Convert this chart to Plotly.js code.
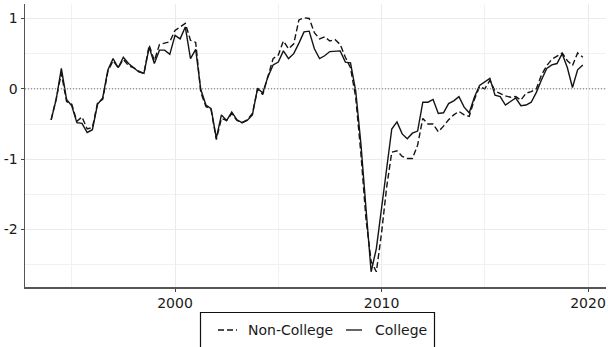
<!DOCTYPE html>
<html>
<head>
<meta charset="utf-8">
<script src="https://cdn.plot.ly/plotly-3.0.1.min.js"></script>
<style>
  html, body { margin: 0; padding: 0; background: #ffffff; }
  #chart { width: 608px; height: 347px; }
</style>
</head>
<body>
<div id="chart"></div>
<script>
// Quarterly index, 1994Q1 - 2019Q4
const firstYear = 1994;
const lastYear = 2019;

const nonCollege = [
  -0.44, -0.14, 0.22, -0.18, -0.22, -0.46, -0.40, -0.57,
  -0.55, -0.20, -0.15, 0.25, 0.40, 0.30, 0.42, 0.33,
  0.30, 0.25, 0.22, 0.62, 0.40, 0.63, 0.65, 0.67,
  0.83, 0.88, 0.93, 0.69, 0.66, -0.05, -0.25, -0.30,
  -0.72, -0.42, -0.45, -0.35, -0.45, -0.48, -0.44, -0.35,
  0.00, -0.08, 0.17, 0.43, 0.48, 0.68, 0.57, 0.64,
  0.98, 1.01, 1.00, 0.80, 0.71, 0.74, 0.68, 0.70,
  0.63, 0.45, 0.30, -0.12, -0.92, -1.85, -2.45, -2.60,
  -2.05, -1.40, -0.90, -0.88, -0.96, -0.99, -0.99, -0.80,
  -0.42, -0.50, -0.50, -0.61, -0.53, -0.44, -0.37, -0.32,
  -0.37, -0.39, -0.15, 0.03, 0.00, 0.12, -0.03, -0.07,
  -0.10, -0.12, -0.11, -0.16, -0.06, -0.04, 0.00, 0.20,
  0.33, 0.42, 0.46, 0.51, 0.40, 0.33, 0.51, 0.45
];

const college = [
  -0.44, -0.15, 0.29, -0.15, -0.24, -0.48, -0.49, -0.62,
  -0.58, -0.22, -0.13, 0.27, 0.43, 0.30, 0.45, 0.36,
  0.30, 0.24, 0.22, 0.59, 0.36, 0.55, 0.55, 0.49,
  0.76, 0.71, 0.88, 0.43, 0.56, -0.01, -0.23, -0.28,
  -0.70, -0.37, -0.45, -0.33, -0.44, -0.48, -0.45, -0.37,
  0.01, -0.06, 0.17, 0.34, 0.38, 0.54, 0.43, 0.50,
  0.65, 0.81, 0.82, 0.57, 0.43, 0.47, 0.53, 0.54,
  0.54, 0.38, 0.37, -0.03, -0.78, -1.70, -2.60, -2.27,
  -1.72, -1.12, -0.57, -0.47, -0.64, -0.71, -0.63, -0.60,
  -0.19, -0.19, -0.15, -0.35, -0.34, -0.21, -0.17, -0.11,
  -0.26, -0.34, -0.12, 0.05, 0.10, 0.15, -0.09, -0.11,
  -0.23, -0.18, -0.13, -0.24, -0.23, -0.19, -0.05, 0.13,
  0.29, 0.34, 0.36, 0.50, 0.30, 0.02, 0.27, 0.34
];

const yTickVals = [-2, -1, 0, 1];
const yTickText = ['-2', '-1', '0', '1'];
const seriesNames = ['Non-College', 'College'];

// Quarter start dates for the time axis
const quarters = [];
for (let y = firstYear; y <= lastYear; y++) {
  for (const m of ['01', '04', '07', '10']) quarters.push(`${y}-${m}-01`);
}

const W = 608, H = 347;
const M = { l: 25, r: 2, t: 4, b: 60 };
const PW = W - M.l - M.r, PH = H - M.t - M.b;
// pixel position -> paper fraction (for the boxed key below the axis)
const px = x => (x - M.l) / PW;
const py = y => (H - M.b - y) / PH;

const ink = '#141414';
const font = { family: 'DejaVu Sans, sans-serif', size: 14, color: '#1a1a1a' };

const traces = [
  {
    x: quarters, y: nonCollege, name: seriesNames[0], type: 'scatter', mode: 'lines',
    line: { color: ink, width: 1.4, dash: '6px,3px' }, showlegend: false, hoverinfo: 'skip'
  },
  {
    x: quarters, y: college, name: seriesNames[1], type: 'scatter', mode: 'lines',
    line: { color: ink, width: 1.4 }, showlegend: false, hoverinfo: 'skip'
  }
];

const keyY = py(330);
const layout = {
  width: W, height: H,
  margin: M,
  paper_bgcolor: '#ffffff', plot_bgcolor: '#ffffff',
  font: font,
  showlegend: false,
  xaxis: {
    type: 'date',
    range: ['1992-09-26', '2020-11-14'],
    tick0: '2000-01-01', dtick: 'M120', tickformat: '%Y',
    ticks: 'outside', ticklen: 3, tickwidth: 1, tickcolor: '#444',
    showline: true, linecolor: '#555', linewidth: 1.5,
    showgrid: true, gridcolor: '#ebebeb', gridwidth: 1,
    minor: { dtick: 'M60', tick0: '1995-01-01', showgrid: true, gridcolor: '#f1f1f1', gridwidth: 1, ticklen: 0 },
    zeroline: false, tickfont: font
  },
  yaxis: {
    range: [-2.816, 1.206],
    tickmode: 'array', tickvals: yTickVals, ticktext: yTickText,
    ticks: 'outside', ticklen: 3, tickwidth: 1, tickcolor: '#444',
    showline: true, linecolor: '#555', linewidth: 1.5,
    showgrid: true, gridcolor: '#ebebeb', gridwidth: 1,
    minor: { tickmode: 'linear', tick0: 0, dtick: 0.5, showgrid: true, gridcolor: '#f1f1f1', gridwidth: 1, ticklen: 0 },
    zeroline: false, tickfont: font
  },
  shapes: [
    // dotted reference line at zero
    { type: 'line', xref: 'paper', x0: 0, x1: 1, yref: 'y', y0: 0, y1: 0,
      line: { color: '#6e6e6e', width: 1, dash: '1px,2px' }, layer: 'above' },
    // key frame
    { type: 'rect', xref: 'paper', yref: 'paper', x0: px(200.5), x1: px(434.5), y0: py(312.5), y1: py(370),
      line: { color: '#111', width: 1.2 }, fillcolor: 'rgba(0,0,0,0)', layer: 'above' },
    // key samples
    { type: 'line', xref: 'paper', yref: 'paper', x0: px(218), x1: px(237), y0: keyY, y1: keyY,
      line: { color: ink, width: 1.3, dash: '6px,3px' } },
    { type: 'line', xref: 'paper', yref: 'paper', x0: px(346), x1: px(362), y0: keyY, y1: keyY,
      line: { color: ink, width: 1.3 } }
  ],
  annotations: [
    { xref: 'paper', yref: 'paper', x: px(245.5), y: keyY, xanchor: 'left', yanchor: 'middle',
      text: seriesNames[0], showarrow: false, font: font },
    { xref: 'paper', yref: 'paper', x: px(372.5), y: keyY, xanchor: 'left', yanchor: 'middle',
      text: seriesNames[1], showarrow: false, font: font }
  ]
};

Plotly.newPlot('chart', traces, layout, { staticPlot: true, displayModeBar: false });
</script>
</body>
</html>
